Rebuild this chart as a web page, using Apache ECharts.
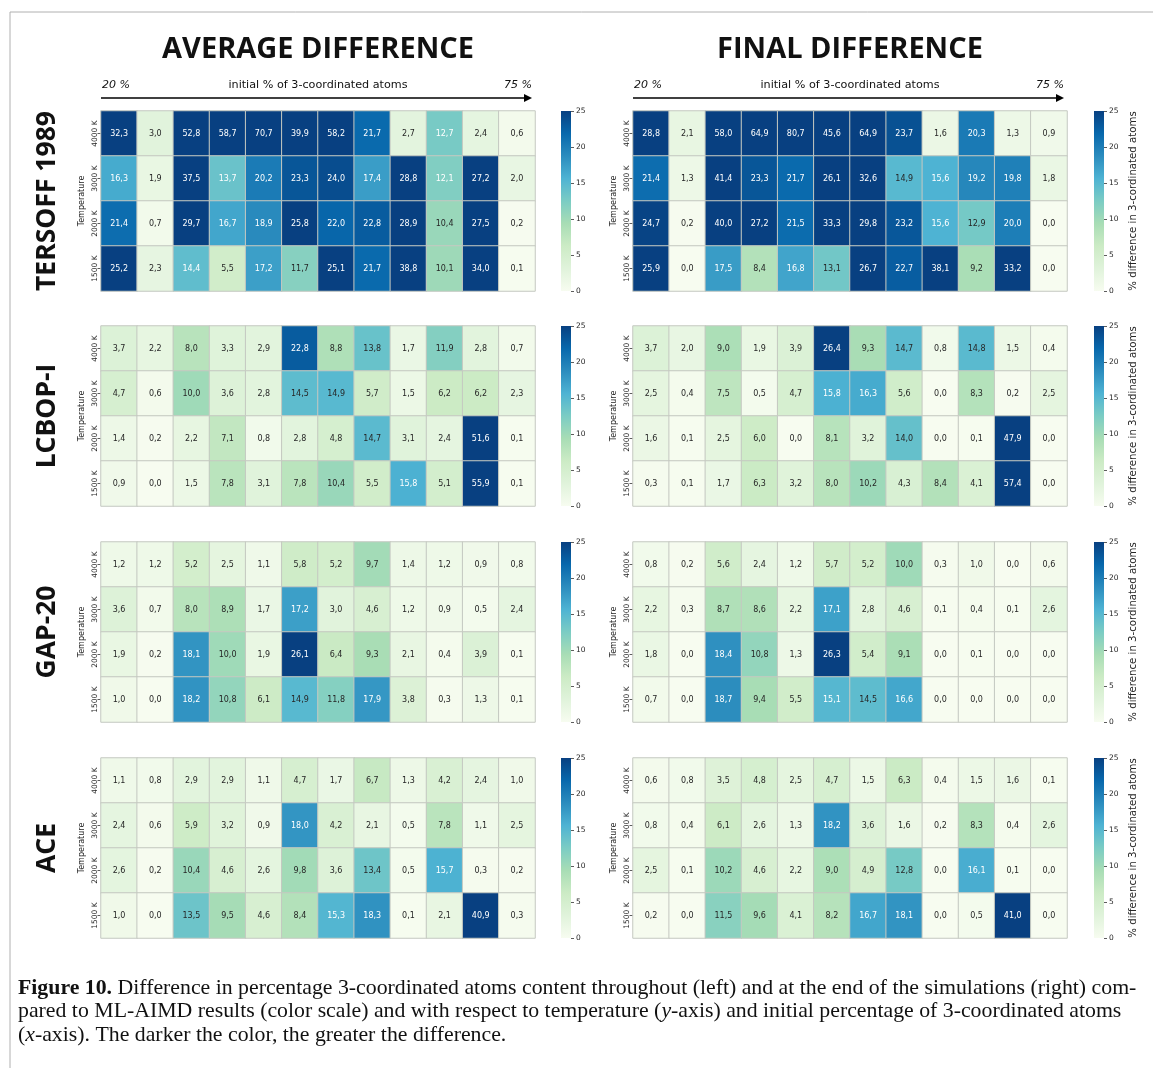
<!DOCTYPE html>
<html><head><meta charset="utf-8">
<script src="https://cdn.jsdelivr.net/npm/echarts@6/dist/echarts.min.js"></script>
<style>html,body{margin:0;padding:0;background:#fff}#c{width:1153px;height:1068px}</style>
</head><body><div id="c"></div>
<script>
// ---------- data ----------
const pct = [20,25,30,35,40,45,50,55,60,65,70,75];          // initial % of 3-coordinated atoms (x categories)
const temps = ['1500 K','2000 K','3000 K','4000 K'];         // y categories, bottom to top
const models = ['TERSOFF 1989','LCBOP-I','GAP-20','ACE'];
const colTitles = ['AVERAGE DIFFERENCE','FINAL DIFFERENCE'];
const cbTicks = [0,5,10,15,20,25];
// each matrix: rows listed top (4000 K) to bottom (1500 K)
const tersoffAvg = [
 [32.3,3.0,52.8,58.7,70.7,39.9,58.2,21.7,2.7,12.7,2.4,0.6],
 [16.3,1.9,37.5,13.7,20.2,23.3,24.0,17.4,28.8,12.1,27.2,2.0],
 [21.4,0.7,29.7,16.7,18.9,25.8,22.0,22.8,28.9,10.4,27.5,0.2],
 [25.2,2.3,14.4,5.5,17.2,11.7,25.1,21.7,38.8,10.1,34.0,0.1]];
const tersoffFinal = [
 [28.8,2.1,58.0,64.9,80.7,45.6,64.9,23.7,1.6,20.3,1.3,0.9],
 [21.4,1.3,41.4,23.3,21.7,26.1,32.6,14.9,15.6,19.2,19.8,1.8],
 [24.7,0.2,40.0,27.2,21.5,33.3,29.8,23.2,15.6,12.9,20.0,0.0],
 [25.9,0.0,17.5,8.4,16.8,13.1,26.7,22.7,38.1,9.2,33.2,0.0]];
const lcbopAvg = [
 [3.7,2.2,8.0,3.3,2.9,22.8,8.8,13.8,1.7,11.9,2.8,0.7],
 [4.7,0.6,10.0,3.6,2.8,14.5,14.9,5.7,1.5,6.2,6.2,2.3],
 [1.4,0.2,2.2,7.1,0.8,2.8,4.8,14.7,3.1,2.4,51.6,0.1],
 [0.9,0.0,1.5,7.8,3.1,7.8,10.4,5.5,15.8,5.1,55.9,0.1]];
const lcbopFinal = [
 [3.7,2.0,9.0,1.9,3.9,26.4,9.3,14.7,0.8,14.8,1.5,0.4],
 [2.5,0.4,7.5,0.5,4.7,15.8,16.3,5.6,0.0,8.3,0.2,2.5],
 [1.6,0.1,2.5,6.0,0.0,8.1,3.2,14.0,0.0,0.1,47.9,0.0],
 [0.3,0.1,1.7,6.3,3.2,8.0,10.2,4.3,8.4,4.1,57.4,0.0]];
const gapAvg = [
 [1.2,1.2,5.2,2.5,1.1,5.8,5.2,9.7,1.4,1.2,0.9,0.8],
 [3.6,0.7,8.0,8.9,1.7,17.2,3.0,4.6,1.2,0.9,0.5,2.4],
 [1.9,0.2,18.1,10.0,1.9,26.1,6.4,9.3,2.1,0.4,3.9,0.1],
 [1.0,0.0,18.2,10.8,6.1,14.9,11.8,17.9,3.8,0.3,1.3,0.1]];
const gapFinal = [
 [0.8,0.2,5.6,2.4,1.2,5.7,5.2,10.0,0.3,1.0,0.0,0.6],
 [2.2,0.3,8.7,8.6,2.2,17.1,2.8,4.6,0.1,0.4,0.1,2.6],
 [1.8,0.0,18.4,10.8,1.3,26.3,5.4,9.1,0.0,0.1,0.0,0.0],
 [0.7,0.0,18.7,9.4,5.5,15.1,14.5,16.6,0.0,0.0,0.0,0.0]];
const aceAvg = [
 [1.1,0.8,2.9,2.9,1.1,4.7,1.7,6.7,1.3,4.2,2.4,1.0],
 [2.4,0.6,5.9,3.2,0.9,18.0,4.2,2.1,0.5,7.8,1.1,2.5],
 [2.6,0.2,10.4,4.6,2.6,9.8,3.6,13.4,0.5,15.7,0.3,0.2],
 [1.0,0.0,13.5,9.5,4.6,8.4,15.3,18.3,0.1,2.1,40.9,0.3]];
const aceFinal = [
 [0.6,0.8,3.5,4.8,2.5,4.7,1.5,6.3,0.4,1.5,1.6,0.1],
 [0.8,0.4,6.1,2.6,1.3,18.2,3.6,1.6,0.2,8.3,0.4,2.6],
 [2.5,0.1,10.2,4.6,2.2,9.0,4.9,12.8,0.0,16.1,0.1,0.0],
 [0.2,0.0,11.5,9.6,4.1,8.2,16.7,18.1,0.0,0.5,41.0,0.0]];

// ---------- layout / style ----------
const panels = [[tersoffAvg,tersoffFinal],[lcbopAvg,lcbopFinal],[gapAvg,gapFinal],[aceAvg,aceFinal]];
const tops = [111,326,542,758];
const lefts = [101,633];
const cbLefts = [561,1094];
const GW = 434, GH = 180;
const gnbu = ['#f7fcf0','#e0f3db','#ccebc5','#a8ddb5','#7bccc4','#4eb3d3','#2b8cbe','#0868ac','#084081'];
const FONT = 'DejaVu Sans';
const DARK = '#262626';

const grid = [], xAxis = [], yAxis = [], series = [], hmIdx = [];
panels.forEach((pair, r) => pair.forEach((mat, c) => {
  const gi = grid.length;
  grid.push({left: lefts[c], top: tops[r], width: GW, height: GH});
  xAxis.push({gridIndex: gi, type: 'category', data: pct.map(String),
    axisLine: {show: false}, axisTick: {show: false}, axisLabel: {show: false}, splitLine: {show: false}});
  yAxis.push({gridIndex: gi, type: 'category', data: temps,
    name: 'Temperature', nameLocation: 'middle', nameRotate: 90, nameGap: 15,
    nameTextStyle: {fontSize: 8, fontFamily: FONT, color: DARK},
    axisLine: {show: false},
    axisTick: {show: true, alignWithLabel: true, length: 3.5, lineStyle: {color: '#333', width: 0.8}},
    axisLabel: {rotate: 90, fontSize: 7.5, margin: 2, color: DARK, fontFamily: FONT}});
  const thr = (r === 0 && c === 0) ? 12 : 15;
  const data = [];
  mat.forEach((row, i) => row.forEach((v, j) => data.push({
    value: [j, temps.length - 1 - i, v],
    label: {color: v > thr ? '#ffffff' : DARK}})));
  hmIdx.push(series.length);
  series.push({type: 'heatmap', xAxisIndex: gi, yAxisIndex: gi, data,
    itemStyle: {borderColor: '#c4c8c1', borderWidth: 1},
    label: {show: true, fontSize: 8, fontFamily: FONT,
      formatter: p => p.value[2].toFixed(1).replace('.', ',')},
    emphasis: {disabled: true}});
}));

// colour bars
tops.forEach((t, r) => [0, 1].forEach(c => {
  const gi = grid.length;
  grid.push({left: cbLefts[c], top: t, width: 10, height: GH});
  xAxis.push({gridIndex: gi, type: 'category', data: [''], show: false});
  yAxis.push({gridIndex: gi, type: 'value', position: 'right',
    min: cbTicks[0], max: cbTicks[cbTicks.length - 1], interval: cbTicks[1] - cbTicks[0],
    axisLine: {show: false}, splitLine: {show: false},
    axisTick: {show: true, length: 3, lineStyle: {color: '#333', width: 0.8}},
    axisLabel: {fontSize: 7.5, margin: 5, color: DARK, fontFamily: FONT},
    name: c === 1 ? '% difference in 3-cordinated atoms' : '',
    nameLocation: 'middle', nameRotate: 90, nameGap: 24,
    nameTextStyle: {fontSize: 10.2, fontFamily: FONT, color: DARK}});
  series.push({type: 'bar', xAxisIndex: gi, yAxisIndex: gi, data: [cbTicks[cbTicks.length - 1]],
    barWidth: '100%', silent: true,
    itemStyle: {color: {type: 'linear', x: 0, y: 1, x2: 0, y2: 0,
      colorStops: gnbu.map((col, k) => ({offset: k / (gnbu.length - 1), color: col}))}}});
}));

// ---------- text / decorations ----------
const graphic = [];
graphic.push({type: 'line', shape: {x1: 10, y1: 12, x2: 1153, y2: 12}, style: {stroke: '#b0b0b0', lineWidth: 1}});
graphic.push({type: 'line', shape: {x1: 10, y1: 12, x2: 10, y2: 1068}, style: {stroke: '#b0b0b0', lineWidth: 1}});
[0, 1].forEach(c => {
  const x0 = lefts[c], x1 = lefts[c] + GW - 3, cx = lefts[c] + GW / 2;
  graphic.push({type: 'text', x: cx, y: 50, style: {text: colTitles[c], fill: '#111',
    font: 'bold 29px "Open Sans"', textAlign: 'center', textVerticalAlign: 'middle'}});
  graphic.push({type: 'text', x: cx, y: 85, style: {text: 'initial % of 3-coordinated atoms', fill: '#111',
    font: '11.2px "DejaVu Sans"', textAlign: 'center', textVerticalAlign: 'middle'}});
  graphic.push({type: 'text', x: x0 + 1, y: 85, style: {text: pct[0] + ' %', fill: '#111',
    font: 'italic 11px "DejaVu Sans"', textAlign: 'left', textVerticalAlign: 'middle'}});
  graphic.push({type: 'text', x: x1, y: 85, style: {text: pct[pct.length - 1] + ' %', fill: '#111',
    font: 'italic 11px "DejaVu Sans"', textAlign: 'right', textVerticalAlign: 'middle'}});
  graphic.push({type: 'line', shape: {x1: x0, y1: 98, x2: x1 - 6, y2: 98}, style: {stroke: '#000', lineWidth: 1.3}});
  graphic.push({type: 'polygon', shape: {points: [[x1 - 8, 94], [x1, 98], [x1 - 8, 102]]}, style: {fill: '#000'}});
});
models.forEach((m, r) => {
  graphic.push({type: 'text', x: 47, y: tops[r] + GH / 2, rotation: Math.PI / 2,
    style: {text: m, fill: '#111', font: 'bold 26.5px "Open Sans"', textAlign: 'center', textVerticalAlign: 'middle'}});
});
const CAP = 21.8;
const capRich = {
  b: {fontFamily: 'Liberation Serif', fontWeight: 'bold', fontSize: CAP, fill: '#111'},
  i: {fontFamily: 'Liberation Serif', fontStyle: 'italic', fontSize: CAP, fill: '#111'},
  n: {fontFamily: 'Liberation Serif', fontSize: CAP, fill: '#111'}
};
const capLines = [
  '{b|Figure 10.}{n| Difference in percentage 3-coordinated atoms content throughout (left) and at the end of the simulations (right) com-}',
  '{n|pared to ML-AIMD results (color scale) and with respect to temperature (}{i|y}{n|-axis) and initial percentage of 3-coordinated atoms}',
  '{n|(}{i|x}{n|-axis). The darker the color, the greater the difference.}'
];
capLines.forEach((t, k) => graphic.push({type: 'text', x: 18, y: 988 + k * 23.5,
  style: {text: t, rich: capRich, textAlign: 'left', textVerticalAlign: 'middle'}}));

const chart = echarts.init(document.getElementById('c'));
chart.setOption({
  animation: false,
  backgroundColor: '#fff',
  grid, xAxis, yAxis, series, graphic,
  visualMap: {show: false, type: 'continuous', min: cbTicks[0], max: cbTicks[cbTicks.length - 1],
    dimension: 2, seriesIndex: hmIdx, inRange: {color: gnbu}}
});
</script></body></html>
